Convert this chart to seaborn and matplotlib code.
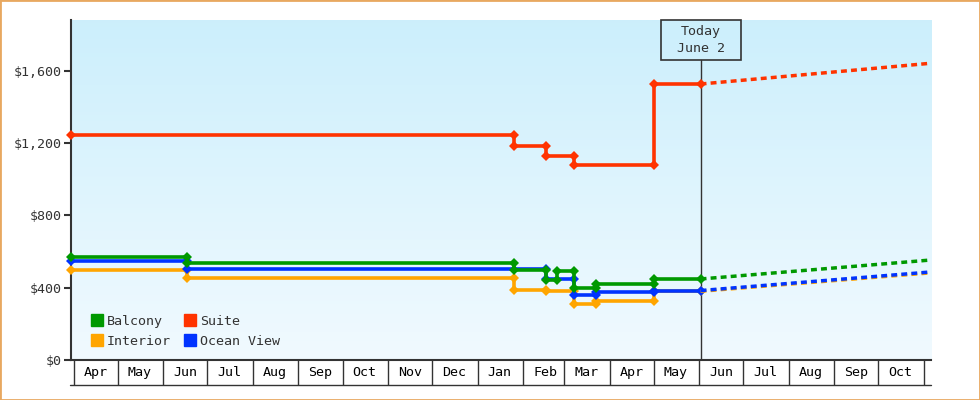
import matplotlib
matplotlib.use("Agg")
import matplotlib.pyplot as plt
import matplotlib.dates as mdates
from matplotlib.lines import Line2D
from matplotlib.patches import Rectangle
from matplotlib.ticker import FuncFormatter, NullFormatter
import numpy as np
import pandas as pd
import seaborn as sns

sns.set_style("white")
plt.rcParams["font.family"] = ["DejaVu Sans Mono"]

# price history, a repeated date means the price changed that day
interior_dates = ["2024-03-30", "2024-06-17", "2024-06-17", "2025-01-26", "2025-01-26",
                  "2025-02-17", "2025-02-17", "2025-03-08", "2025-03-08", "2025-03-23",
                  "2025-03-23", "2025-05-01", "2025-05-01", "2025-06-02"]
interior_prices = [496, 496, 452, 452, 386, 386, 380, 380, 310, 310, 325, 325, 380, 380]

ocean_dates = ["2024-03-30", "2024-06-17", "2024-06-17", "2025-02-17", "2025-02-17",
               "2025-03-08", "2025-03-08", "2025-03-23", "2025-03-23", "2025-05-01",
               "2025-05-01", "2025-06-02"]
ocean_prices = [547, 547, 502, 502, 446, 446, 361, 361, 375, 375, 384, 384]

balcony_dates = ["2024-03-30", "2024-06-17", "2024-06-17", "2025-01-26", "2025-01-26",
                 "2025-02-17", "2025-02-17", "2025-02-24", "2025-02-24", "2025-03-08",
                 "2025-03-08", "2025-03-23", "2025-03-23", "2025-05-01", "2025-05-01",
                 "2025-06-02"]
balcony_prices = [568, 568, 536, 536, 499, 499, 445, 445, 491, 491, 398, 398, 420, 420, 448, 448]

suite_dates = ["2024-03-30", "2025-01-26", "2025-01-26", "2025-02-17", "2025-02-17",
               "2025-03-08", "2025-03-08", "2025-05-01", "2025-05-01", "2025-06-02"]
suite_prices = [1245, 1245, 1184, 1184, 1130, 1130, 1079, 1079, 1526, 1526]

# forecast from today to the end of the window
today = "2025-06-02"
forecast_end = "2025-11-06"
forecast_names = ["Interior", "Ocean View", "Balcony", "Suite"]
forecast_from = [380, 384, 448, 1526]
forecast_to = [482, 487, 553, 1641]

colors = {"Balcony": "#009900", "Suite": "#ff3300",
          "Interior": "#ffa500", "Ocean View": "#0033ff"}
history = {"Interior": (interior_dates, interior_prices),
           "Ocean View": (ocean_dates, ocean_prices),
           "Balcony": (balcony_dates, balcony_prices),
           "Suite": (suite_dates, suite_prices)}

dark = "#333333"
fs = 9.6

fig = plt.figure(figsize=(9.8, 4), dpi=100)
ax = fig.add_axes([71 / 980, 40 / 400, 860 / 980, 340 / 400])

# background gradient
top = np.array([0.800, 0.937, 0.988])
bot = np.array([0.945, 0.980, 1.000])
grad = np.linspace(0, 1, 256)[:, None, None] * (bot - top) + top
ax.imshow(grad, extent=[0, 1, 0, 1], transform=ax.transAxes, aspect="auto", zorder=0)

for name, (d, p) in history.items():
    sns.lineplot(x=pd.to_datetime(d), y=p, estimator=None, sort=False, ax=ax,
                 color=colors[name], lw=2.6, marker="D", markersize=5.6,
                 markeredgewidth=0, clip_on=False, zorder=3)

for name, a, b in zip(forecast_names, forecast_from, forecast_to):
    sns.lineplot(x=pd.to_datetime([today, forecast_end]), y=[a, b], estimator=None,
                 ax=ax, color=colors[name], lw=2.5, linestyle=(0, (1.7, 1.2)),
                 zorder=3)

x0 = pd.Timestamp("2024-03-30")
x1 = pd.Timestamp(forecast_end)
ax.set_xlim(x0, x1)
ax.set_ylim(0, 1880)

# today marker
ax.axvline(pd.Timestamp(today), ymin=0, ymax=300 / 340, color=dark, lw=1, zorder=2)
lo, hi = ax.get_xlim()
tx = (mdates.date2num(pd.Timestamp(today)) - lo) / (hi - lo)
ax.add_patch(Rectangle((tx - 40 / 860, 300 / 340), 80 / 860, 40 / 340,
                       transform=ax.transAxes, fill=False, edgecolor=dark, lw=1.2,
                       clip_on=False, zorder=4))
ax.text(tx, 320 / 340, "Today\nJune 2", transform=ax.transAxes, ha="center",
        va="center", fontsize=fs, color=dark, linespacing=1.35, zorder=4)

# y axis
ax.set_yticks([0, 400, 800, 1200, 1600])
ax.yaxis.set_major_formatter(FuncFormatter(lambda v, _: f"${v:,.0f}"))
ax.tick_params(axis="y", length=5, width=1.5, color=dark, pad=1.5,
               labelsize=fs, labelcolor=dark, left=True)

# x axis: month boxes
ax.xaxis.set_major_locator(mdates.MonthLocator())
ax.xaxis.set_major_formatter(NullFormatter())
ax.xaxis.set_minor_locator(mdates.DayLocator(bymonthday=16))
ax.xaxis.set_minor_formatter(mdates.DateFormatter("%b"))
ax.tick_params(axis="x", which="major", length=18, width=1, color=dark,
               direction="out", bottom=True)
ax.tick_params(axis="x", which="minor", length=0, pad=4.5, labelsize=fs,
               labelcolor="black", bottom=True)
fig.add_artist(Line2D([70 / 980, 931 / 980], [15.5 / 400, 15.5 / 400],
                      color=dark, lw=1))

for s in ["top", "right"]:
    ax.spines[s].set_visible(False)
for s in ["left", "bottom"]:
    ax.spines[s].set_color(dark)
    ax.spines[s].set_linewidth(1.5)
ax.set_xlabel("")
ax.set_ylabel("")

# legend
handles = [Line2D([], [], marker="s", ls="none", color=colors[n], markersize=8)
           for n in ["Balcony", "Interior", "Suite", "Ocean View"]]
ax.legend(handles, ["Balcony", "Interior", "Suite", "Ocean View"], ncol=2,
          loc="upper left", bbox_to_anchor=(0.024, 0.133), frameon=False,
          fontsize=fs, handlelength=0.8, handletextpad=0.35, columnspacing=1.0,
          labelspacing=0.55, borderpad=0, borderaxespad=0, labelcolor=dark)

fig.patches.append(Rectangle((0, 0), 1, 1, transform=fig.transFigure, fill=False,
                             edgecolor="#e8a860", lw=2))

fig.savefig("out.png", dpi=100)
